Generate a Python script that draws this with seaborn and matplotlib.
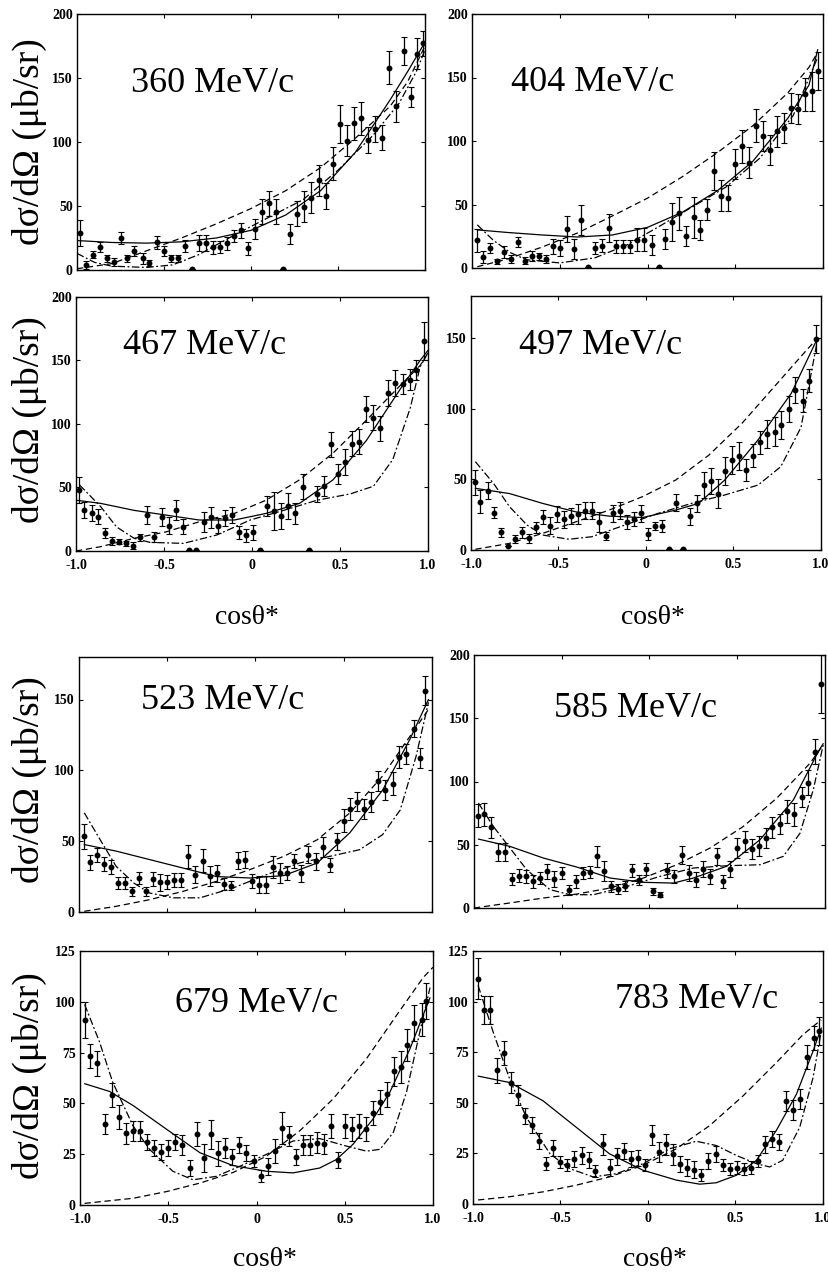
import numpy as np
import pandas as pd
import matplotlib
matplotlib.use('Agg')
import matplotlib.pyplot as plt
import seaborn as sns

sns.set_theme(style='ticks')
plt.rcParams['font.family'] = ['Liberation Serif', 'DejaVu Serif']

momenta = ['360 MeV/c', '404 MeV/c', '467 MeV/c', '497 MeV/c',
           '523 MeV/c', '585 MeV/c', '679 MeV/c', '783 MeV/c']

# data points: (cos theta*, dsigma/dOmega, error)
pts_360 = [(-0.985, 29, 10), (-0.95, 4, 3), (-0.91, 12, 3), (-0.87, 18, 4), (-0.83, 9, 3),
           (-0.79, 6, 3), (-0.75, 25, 5), (-0.71, 9, 3), (-0.67, 15, 4), (-0.62, 9, 4),
           (-0.585, 5.5, 2), (-0.54, 21.6, 5), (-0.50, 15, 4), (-0.46, 9, 3), (-0.42, 9, 3),
           (-0.38, 18.7, 5), (-0.34, 0.5, 0), (-0.30, 21, 6), (-0.26, 21, 6), (-0.22, 17.7, 5),
           (-0.18, 18, 5), (-0.14, 21, 5), (-0.10, 26.6, 5), (-0.06, 31, 6), (-0.02, 17, 5),
           (0.024, 32, 8), (0.066, 45.6, 10), (0.105, 52, 10), (0.145, 45.6, 10), (0.185, 0.5, 0),
           (0.225, 28, 8), (0.267, 44, 10), (0.306, 49.5, 12), (0.346, 56.5, 12), (0.39, 70, 12),
           (0.43, 58, 10), (0.47, 83, 13), (0.51, 114, 15), (0.55, 101, 12), (0.59, 114.6, 13),
           (0.63, 118.5, 13), (0.67, 101.6, 10), (0.71, 110, 10), (0.75, 103.4, 10), (0.795, 158, 13),
           (0.835, 128, 12), (0.88, 171, 11), (0.92, 135, 8), (0.955, 169, 12), (0.99, 177, 10)]
pts_404 = [(-0.973, 21.8, 9), (-0.94, 8.7, 5), (-0.90, 15.7, 4), (-0.86, 5.2, 2), (-0.82, 12.6, 5),
           (-0.78, 7.1, 3), (-0.74, 20.2, 4), (-0.70, 5.8, 3), (-0.66, 9.7, 4), (-0.62, 9.2, 3),
           (-0.58, 7.1, 3), (-0.54, 17, 6), (-0.50, 15.7, 6), (-0.46, 30.7, 10), (-0.42, 15.2, 8),
           (-0.38, 38, 12), (-0.34, 0.5, 0), (-0.30, 15.7, 5), (-0.26, 17.6, 5), (-0.22, 31.2, 11),
           (-0.18, 17, 5), (-0.14, 17, 5), (-0.10, 17, 5), (-0.06, 22.3, 9), (-0.02, 22.3, 9),
           (0.023, 18.3, 8), (0.063, 0.5, 0), (0.10, 23, 8), (0.14, 36, 15), (0.18, 43.2, 13),
           (0.22, 25, 8), (0.264, 39.8, 16), (0.30, 30, 8), (0.34, 46, 8), (0.38, 76.5, 15),
           (0.42, 57, 12), (0.46, 55, 10), (0.50, 81.8, 12), (0.54, 95.7, 13), (0.58, 83, 12),
           (0.62, 112, 13), (0.66, 104, 12), (0.70, 93, 12), (0.74, 107.5, 12), (0.78, 110.4, 12),
           (0.82, 125.8, 12), (0.86, 125, 12), (0.90, 137, 13), (0.94, 139, 15), (0.97, 155, 15)]
pts_467 = [(-0.983, 48, 10), (-0.953, 32.2, 6), (-0.91, 30, 6), (-0.873, 27, 6), (-0.835, 13.9, 4),
           (-0.794, 8.1, 3), (-0.756, 7.3, 2), (-0.716, 6, 2), (-0.674, 4.2, 3), (-0.634, 10.7, 3),
           (-0.595, 28.3, 7), (-0.557, 11.3, 4), (-0.513, 27, 7), (-0.473, 20, 7), (-0.434, 32.2, 8),
           (-0.394, 19.1, 6), (-0.356, 0.5, 0), (-0.316, 0.5, 0), (-0.273, 23, 8), (-0.233, 26.5, 8),
           (-0.193, 20, 6), (-0.153, 26, 6), (-0.114, 28.3, 6), (-0.076, 14.7, 5), (-0.034, 12.3, 5),
           (0.006, 14.7, 6), (0.045, 0.5, 0), (0.087, 35.4, 8), (0.127, 31.7, 15), (0.167, 27.5, 10),
           (0.206, 35.4, 10), (0.246, 29.6, 8), (0.288, 50.6, 10), (0.326, 0.5, 0), (0.367, 44.8, 6),
           (0.409, 51, 8), (0.449, 84, 10), (0.49, 60.5, 8), (0.53, 70, 10), (0.57, 84.6, 10),
           (0.61, 86, 10), (0.65, 111.7, 10), (0.69, 105, 10), (0.73, 96.5, 10), (0.775, 124.5, 10),
           (0.815, 132.4, 10), (0.856, 131.3, 8), (0.896, 135, 8), (0.934, 142.3, 8), (0.975, 165, 15)]
pts_497 = [(-0.975, 48, 9), (-0.947, 34.3, 8), (-0.905, 42, 6), (-0.866, 26.5, 4), (-0.828, 12.5, 3),
           (-0.788, 3, 0), (-0.746, 7.8, 3), (-0.707, 12.5, 4), (-0.67, 8.3, 3), (-0.63, 16, 4),
           (-0.588, 23.6, 5), (-0.55, 17.2, 6), (-0.508, 25.5, 6), (-0.468, 21.7, 6), (-0.427, 24.1, 6),
           (-0.389, 25.3, 7), (-0.347, 27.9, 6), (-0.31, 27.9, 6), (-0.268, 20, 7), (-0.228, 10, 3),
           (-0.188, 26, 6), (-0.149, 27.9, 6), (-0.109, 20, 5), (-0.069, 22, 5), (-0.028, 26, 6),
           (0.01, 11.3, 4), (0.05, 17, 3), (0.092, 17, 4), (0.13, 0.5, 0), (0.171, 33.5, 6),
           (0.21, 0.5, 0), (0.253, 24, 6), (0.292, 33, 6), (0.332, 46, 9), (0.372, 49, 9),
           (0.413, 40, 10), (0.453, 56, 10), (0.493, 63.8, 10), (0.533, 66.6, 10), (0.574, 56.7, 8),
           (0.614, 66.9, 8), (0.654, 76.3, 8), (0.693, 82, 10), (0.735, 83.9, 10), (0.773, 88.6, 10),
           (0.815, 100, 9), (0.854, 113.4, 9), (0.896, 105.8, 8), (0.934, 120, 8), (0.972, 149.3, 10)]
pts_523 = [(-0.972, 53.4, 9), (-0.94, 35, 5), (-0.90, 40, 5), (-0.86, 34, 5), (-0.82, 31.8, 5),
           (-0.78, 20.5, 4), (-0.74, 20.5, 4), (-0.70, 14.6, 3), (-0.66, 24, 4), (-0.62, 14.6, 3),
           (-0.58, 23.3, 5), (-0.54, 21, 6), (-0.50, 21, 5), (-0.46, 22.4, 5), (-0.42, 22.4, 5),
           (-0.38, 39.3, 8), (-0.34, 26.4, 6), (-0.30, 36.3, 8), (-0.26, 25.7, 7), (-0.22, 27.5, 6),
           (-0.18, 19.8, 4), (-0.14, 18.6, 3), (-0.10, 36.3, 6), (-0.06, 37, 6), (-0.02, 21.7, 5),
           (0.02, 19.3, 6), (0.06, 19.3, 6), (0.10, 31.8, 8), (0.14, 27.5, 7), (0.18, 27.5, 5),
           (0.22, 35.8, 5), (0.26, 27.5, 6), (0.30, 40.5, 6), (0.34, 35.8, 6), (0.38, 46, 7),
           (0.42, 33.4, 5), (0.46, 50, 6), (0.50, 64.5, 8), (0.535, 72.8, 8), (0.575, 78, 7),
           (0.617, 72.8, 7), (0.656, 77.5, 7), (0.696, 92.3, 7), (0.735, 86.4, 7), (0.777, 90.6, 8),
           (0.815, 109.3, 8), (0.853, 111.8, 7), (0.896, 129.3, 6), (0.93, 108.8, 7), (0.96, 156.3, 10)]
pts_585 = [(-0.975, 73, 9), (-0.943, 74, 9), (-0.905, 63.7, 8), (-0.863, 44, 7), (-0.823, 44, 7),
           (-0.783, 23, 5), (-0.744, 25.5, 5), (-0.704, 25, 5), (-0.662, 21, 5), (-0.624, 23.7, 5),
           (-0.582, 29, 6), (-0.542, 22.9, 6), (-0.50, 27.6, 5), (-0.46, 14.5, 4), (-0.42, 21, 5),
           (-0.38, 27.6, 5), (-0.34, 28.4, 5), (-0.30, 40.8, 8), (-0.26, 29, 8), (-0.22, 17, 4),
           (-0.18, 15, 4), (-0.14, 17.6, 4), (-0.10, 29.7, 5), (-0.06, 21.8, 4), (-0.02, 30.8, 5),
           (0.02, 13.2, 3), (0.06, 10.5, 2), (0.10, 29.7, 6), (0.14, 25, 5), (0.183, 42, 7),
           (0.223, 27.6, 6), (0.263, 22.4, 6), (0.303, 30.8, 6), (0.343, 25, 6), (0.383, 40.8, 7),
           (0.42, 21, 5), (0.46, 30.8, 6), (0.50, 47.4, 8), (0.542, 52.6, 8), (0.582, 46.6, 8),
           (0.622, 49.2, 8), (0.662, 55.3, 8), (0.70, 63.7, 8), (0.742, 66.3, 8), (0.781, 76.3, 9),
           (0.823, 74.2, 9), (0.867, 88, 8), (0.905, 99.2, 10), (0.943, 123.7, 10), (0.977, 177, 23)]
pts_679 = [(-0.974, 91, 9), (-0.943, 73.3, 6), (-0.904, 69.7, 6), (-0.86, 40, 5), (-0.818, 54.2, 6),
           (-0.779, 43.4, 6), (-0.739, 35.2, 5), (-0.70, 36.5, 5), (-0.66, 36.5, 5), (-0.62, 31, 4),
           (-0.58, 27.9, 4), (-0.54, 26, 4), (-0.50, 27.9, 4), (-0.46, 31, 4), (-0.42, 29.5, 5),
           (-0.377, 18.2, 4), (-0.338, 34.8, 6), (-0.298, 23.2, 7), (-0.26, 34.8, 7), (-0.219, 25.4, 6),
           (-0.177, 27.9, 5), (-0.137, 23.7, 4), (-0.097, 29.4, 4), (-0.058, 25.7, 4), (-0.016, 21.6, 3),
           (0.024, 14.1, 3), (0.063, 19, 4), (0.105, 26.5, 6), (0.145, 37.8, 8), (0.184, 34, 5),
           (0.222, 23.7, 4), (0.264, 29.5, 5), (0.302, 29.5, 5), (0.343, 30.7, 5), (0.383, 29.9, 5),
           (0.423, 39, 6), (0.463, 22, 4), (0.502, 39, 6), (0.542, 37.3, 6), (0.582, 39, 6),
           (0.62, 37.3, 6), (0.658, 45.3, 6), (0.70, 50.6, 6), (0.74, 54.4, 6), (0.78, 65.8, 7),
           (0.818, 68, 8), (0.855, 78.8, 8), (0.894, 89.5, 9), (0.936, 91.2, 8), (0.96, 100.3, 9)]
pts_783 = [(-0.971, 111.4, 10), (-0.939, 96, 7), (-0.90, 96, 7), (-0.861, 66, 6), (-0.82, 74.7, 6),
           (-0.78, 60, 5), (-0.741, 53.8, 5), (-0.70, 43.6, 4), (-0.661, 39.2, 4), (-0.621, 31, 4),
           (-0.581, 20, 3), (-0.541, 27.6, 4), (-0.50, 20.8, 3), (-0.461, 19.1, 3), (-0.421, 22.4, 4),
           (-0.379, 24, 4), (-0.339, 21.6, 4), (-0.30, 16.2, 3), (-0.259, 29.4, 5), (-0.219, 18, 4),
           (-0.179, 23.5, 4), (-0.139, 26, 4), (-0.099, 22.4, 4), (-0.057, 22.9, 4), (-0.017, 19.1, 3),
           (0.023, 34.2, 5), (0.063, 25.7, 5), (0.105, 29.4, 5), (0.145, 24.5, 5), (0.185, 19.9, 4),
           (0.225, 18, 4), (0.265, 17, 4), (0.305, 14.2, 3), (0.345, 21.2, 4), (0.387, 24.8, 4),
           (0.427, 19.1, 3), (0.467, 17.5, 3), (0.507, 18, 3), (0.547, 17.5, 3), (0.587, 18, 3),
           (0.627, 21.2, 3), (0.667, 29.4, 4), (0.708, 32.2, 4), (0.749, 30.5, 4), (0.79, 51, 5),
           (0.83, 46.4, 5), (0.87, 51.8, 5), (0.908, 72.5, 6), (0.948, 82, 6), (0.98, 85.6, 7)]

# model curves: (cos theta*, dsigma/dOmega)
solid_360 = [(-1, 23), (-0.8, 21.5), (-0.6, 21), (-0.4, 22), (-0.2, 25), (0, 31), (0.2, 43),
             (0.4, 62), (0.6, 92), (0.8, 133), (0.9, 155), (1.0, 178)]
dashed_360 = [(-1, 1), (-0.8, 5), (-0.6, 15), (-0.4, 25), (-0.2, 36), (0, 48), (0.2, 62),
              (0.4, 80), (0.6, 103), (0.8, 128), (0.9, 147), (1.0, 175)]
dashdot_360 = [(-1, 13), (-0.9, 6), (-0.8, 3), (-0.6, 2), (-0.45, 4), (-0.3, 12), (-0.1, 27),
               (0.1, 41), (0.3, 55), (0.5, 78), (0.7, 105), (0.85, 130), (0.95, 155), (1.0, 172)]
solid_404 = [(-0.97, 30), (-0.8, 28), (-0.6, 26), (-0.4, 24.4), (-0.2, 26), (0, 32), (0.2, 44),
             (0.4, 61), (0.6, 84), (0.8, 118), (0.92, 144), (0.97, 172)]
dashed_404 = [(-0.97, 1), (-0.8, 7), (-0.6, 16.5), (-0.4, 27.5), (-0.2, 41), (0, 55), (0.2, 72),
              (0.4, 91), (0.6, 112), (0.8, 138), (0.92, 158), (0.97, 170)]
dashdot_404 = [(-0.97, 34), (-0.88, 22), (-0.78, 12), (-0.69, 6.5), (-0.5, 4), (-0.3, 8), (-0.12, 18),
               (0.07, 33), (0.26, 48.5), (0.45, 64), (0.64, 86.5), (0.83, 120), (0.97, 166)]
solid_467 = [(-1, 40), (-0.86, 37.5), (-0.67, 32), (-0.49, 28.3), (-0.3, 24.4), (-0.1, 24.4),
             (0.08, 29.6), (0.27, 37.5), (0.46, 56), (0.65, 87), (0.84, 127), (0.955, 150), (1.0, 158)]
dashed_467 = [(-1, 0), (-0.86, 3.4), (-0.67, 10), (-0.49, 15), (-0.3, 23), (-0.1, 29.6), (0.08, 40),
              (0.27, 56), (0.46, 77), (0.65, 103), (0.84, 130), (0.955, 146), (1.0, 156)]
dashdot_467 = [(-0.98, 52), (-0.86, 35), (-0.77, 19), (-0.67, 10), (-0.58, 6.8), (-0.39, 6),
               (-0.2, 12.6), (-0.01, 24.4), (0.18, 32), (0.37, 40), (0.56, 45), (0.69, 51),
               (0.8, 72), (0.9, 113), (0.955, 145), (1.0, 156)]
solid_497 = [(-0.975, 43.7), (-0.78, 40), (-0.59, 33), (-0.4, 27), (-0.21, 24), (-0.02, 23),
             (0.17, 28.3), (0.3, 33), (0.45, 49.6), (0.64, 78), (0.83, 111), (0.98, 150)]
dashed_497 = [(-0.975, 0.5), (-0.78, 4.7), (-0.59, 11.8), (-0.4, 20), (-0.21, 28.3), (-0.02, 37.8),
              (0.17, 49.6), (0.36, 67.3), (0.55, 90), (0.735, 116), (0.92, 142), (0.98, 150)]
dashdot_497 = [(-0.975, 62.6), (-0.87, 47), (-0.78, 30.7), (-0.68, 17.7), (-0.59, 10.6), (-0.44, 7.6),
               (-0.31, 9.4), (-0.12, 17.7), (0.07, 26), (0.26, 33), (0.45, 39), (0.64, 46),
               (0.77, 59), (0.886, 87), (0.98, 149)]
solid_523 = [(-0.97, 47.6), (-0.79, 43), (-0.6, 37), (-0.41, 31), (-0.22, 25), (-0.03, 24),
             (0.16, 25.7), (0.35, 34.6), (0.535, 56), (0.72, 86), (0.875, 122), (0.98, 150)]
dashed_523 = [(-0.97, 0.5), (-0.79, 4), (-0.6, 8.7), (-0.41, 14.6), (-0.22, 21.7), (-0.03, 30),
              (0.16, 39.3), (0.35, 51), (0.535, 70), (0.72, 96), (0.875, 124), (0.98, 143)]
dashdot_523 = [(-0.97, 70), (-0.88, 51), (-0.79, 32.3), (-0.69, 20.5), (-0.6, 13.4), (-0.465, 10),
               (-0.315, 10), (-0.126, 17), (0.063, 26.4), (0.25, 34.6), (0.44, 39.8), (0.59, 44),
               (0.72, 54.6), (0.82, 72), (0.91, 110), (0.98, 148)]
solid_585 = [(-0.975, 54.5), (-0.795, 48.7), (-0.605, 39.5), (-0.415, 32.4), (-0.225, 23.7),
             (-0.035, 20.3), (0.136, 19.7), (0.25, 23.7), (0.44, 33), (0.63, 54), (0.82, 85.5),
             (0.962, 123.7), (0.99, 130)]
dashed_585 = [(-1, 0), (-0.795, 4), (-0.605, 7.9), (-0.415, 11), (-0.225, 15.8), (-0.035, 23.7),
              (0.155, 34.2), (0.345, 47.4), (0.535, 64.5), (0.725, 86.8), (0.915, 114.5), (0.99, 129)]
dashdot_585 = [(-0.975, 83), (-0.89, 64.5), (-0.795, 47.4), (-0.7, 30.3), (-0.567, 14.5),
               (-0.453, 10.5), (-0.32, 10.5), (-0.13, 17), (0.06, 25), (0.25, 31.6), (0.44, 33.4),
               (0.63, 34.2), (0.762, 40.8), (0.857, 59), (0.933, 93.4), (0.99, 129)]
solid_679 = [(-0.974, 59.7), (-0.833, 55.9), (-0.7, 49), (-0.51, 37.3), (-0.32, 25.7), (-0.133, 19.4),
             (0.056, 16.6), (0.207, 15.8), (0.358, 18.2), (0.453, 22.4), (0.547, 29.9), (0.66, 42.3),
             (0.756, 55.6), (0.87, 77), (0.983, 102)]
dashed_679 = [(-0.974, 0.8), (-0.7, 3.3), (-0.51, 6.6), (-0.32, 10.8), (-0.133, 16), (0.056, 24),
              (0.245, 36.5), (0.434, 52.2), (0.623, 72), (0.81, 95.4), (0.945, 112), (1.0, 117)]
dashdot_679 = [(-0.974, 98.7), (-0.89, 80.4), (-0.815, 60.5), (-0.7, 39), (-0.606, 27.4),
               (-0.474, 16.6), (-0.36, 12.4), (-0.228, 14.1), (-0.096, 19), (0.056, 24.9),
               (0.207, 31.5), (0.358, 32.7), (0.509, 29), (0.623, 26.5), (0.7, 27.4), (0.775, 35.7),
               (0.85, 55.6), (0.926, 85.4), (0.983, 107)]
solid_783 = [(-0.971, 63.2), (-0.79, 60), (-0.6, 51), (-0.41, 37.9), (-0.22, 24.8), (-0.029, 16.7),
             (0.162, 11.8), (0.295, 9.8), (0.39, 10.5), (0.505, 14.2), (0.62, 21.6), (0.733, 36.3),
             (0.848, 54.2), (0.943, 75.5), (0.99, 87)]
dashed_783 = [(-0.971, 2), (-0.79, 3.6), (-0.6, 6), (-0.41, 9.3), (-0.22, 13.4), (-0.029, 19.1),
              (0.162, 27.3), (0.352, 38.7), (0.543, 53.4), (0.733, 69.8), (0.886, 83.7), (0.99, 91)]
dashdot_783 = [(-0.971, 108), (-0.886, 85.3), (-0.79, 61.6), (-0.695, 42.8), (-0.56, 24.8),
               (-0.448, 17.5), (-0.314, 13.4), (-0.18, 15), (-0.029, 19.9), (0.124, 27.3),
               (0.276, 31), (0.39, 28.9), (0.505, 24), (0.62, 19.9), (0.695, 18.3), (0.77, 21.6),
               (0.867, 37.9), (0.943, 62.4), (0.99, 85.3)]

W, H = 829, 1273
# panel boxes in pixels: left, top, right, bottom
boxes = [(77, 14, 425, 270), (472, 14, 823, 268),
         (76, 297, 428, 551), (471, 296, 821, 550),
         (79, 657, 432, 912), (474, 655, 825, 908),
         (80, 951, 433, 1205), (473, 951, 823, 1204)]
ymaxes = [200, 200, 200, 180, 180, 200, 125, 125]
ysteps = [50, 50, 50, 50, 50, 50, 25, 25]
label_pos = [(0.39, 0.73), (0.345, 0.73), (0.366, 0.81), (0.37, 0.807),
             (0.408, 0.83), (0.46, 0.79), (0.50, 0.795), (0.64, 0.81)]
show_x = [False, False, True, True, False, False, True, True]

all_pts = [pts_360, pts_404, pts_467, pts_497, pts_523, pts_585, pts_679, pts_783]
all_solid = [solid_360, solid_404, solid_467, solid_497, solid_523, solid_585, solid_679, solid_783]
all_dashed = [dashed_360, dashed_404, dashed_467, dashed_497, dashed_523, dashed_585, dashed_679, dashed_783]
all_dashdot = [dashdot_360, dashdot_404, dashdot_467, dashdot_497, dashdot_523, dashdot_585, dashdot_679, dashdot_783]

fig = plt.figure(figsize=(W / 100, H / 100), dpi=100)

for i in range(8):
    l, t, r, b = boxes[i]
    ax = fig.add_axes([l / W, 1 - b / H, (r - l) / W, (b - t) / H])
    for curve, ls in [(all_solid[i], '-'), (all_dashed[i], (0, (5, 3))),
                      (all_dashdot[i], (0, (6, 2, 1.5, 2)))]:
        c = pd.DataFrame(curve, columns=['cos', 'xs'])
        sns.lineplot(data=c, x='cos', y='xs', ax=ax, color='black', linewidth=0.9,
                     linestyle=ls, sort=False, estimator=None)
    df = pd.DataFrame(all_pts[i], columns=['cos', 'xs', 'err'])
    ax.errorbar(df['cos'], df['xs'], yerr=df['err'], fmt='none', ecolor='black',
                elinewidth=0.9, capsize=2, capthick=0.8, zorder=3)
    sns.scatterplot(data=df, x='cos', y='xs', ax=ax, color='black', s=18,
                    edgecolor='black', linewidth=0, zorder=4)
    ax.set_xlim(-1, 1)
    ax.set_ylim(0, ymaxes[i])
    ax.set_xlabel('')
    ax.set_ylabel('')
    ax.set_yticks(np.arange(0, ymaxes[i] + 1, ysteps[i]))
    ax.set_xticks([-1, -0.5, 0, 0.5, 1])
    if show_x[i]:
        ax.set_xticklabels(['-1.0', '-0.5', '0', '0.5', '1.0'])
    else:
        ax.set_xticklabels([])
    ax.tick_params(direction='in', length=3, width=0.8, top=True, right=True,
                   labelsize=10, colors='black')
    ax.tick_params(axis='y', pad=3)
    ax.tick_params(axis='x', pad=6)
    for lab in ax.get_xticklabels() + ax.get_yticklabels():
        lab.set_fontweight('bold')
    for sp in ax.spines.values():
        sp.set_linewidth(1.0)
        sp.set_color('black')
    ax.text(label_pos[i][0], label_pos[i][1], momenta[i], transform=ax.transAxes,
            ha='center', va='center', fontsize=26, color='black')

ylab = 'dσ/dΩ (μb/sr)'
for yc in [142, 420, 780, 1076]:
    fig.text(29 / W, 1 - yc / H, ylab, rotation=90, ha='center', va='center',
             fontsize=27, color='black')
for xc, yc in [(247, 617), (653, 617), (265, 1260), (655, 1260)]:
    fig.text(xc / W, 1 - yc / H, 'cosθ*', ha='center', va='center', fontsize=20, color='black')

fig.savefig('out.png', dpi=100)
